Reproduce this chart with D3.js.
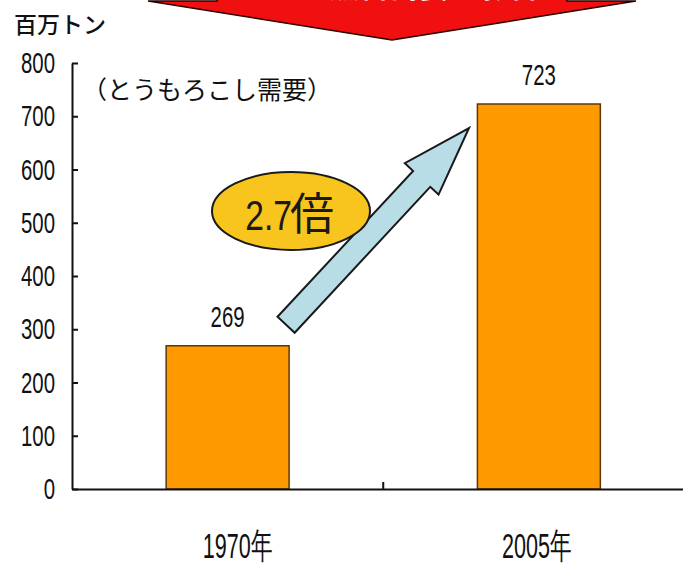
<!DOCTYPE html>
<html>
<head>
<meta charset="utf-8">
<script src="https://cdn.jsdelivr.net/npm/d3@7"></script>
<style>
  html, body { margin: 0; padding: 0; background: #fff; }
  svg { display: block; }
</style>
</head>
<body>
<svg id="chart" width="683" height="564"></svg>
<script>
// Corn demand (million tonnes)
const categories = ["1970年", "2005年"];
const demand = [269, 723];
const yTicks = [0, 100, 200, 300, 400, 500, 600, 700, 800];
const unitLabel = "百万トン";
const seriesLabel = "（とうもろこし需要）";
const bannerText = "バイオ燃料需要の影響";

const W = 683, H = 564;
const plot = { left: 72, right: 694.5, top: 63, bottom: 489 };
const numFont = "'Liberation Sans', Arial, sans-serif";
const jpFont = "'Noto Sans CJK JP', 'Noto Sans', sans-serif";

const svg = d3.select("#chart");

const x = d3.scaleBand()
  .domain(categories)
  .range([plot.left, plot.right])
  .paddingInner(0.605)
  .paddingOuter(0.3025);

const y = d3.scaleLinear()
  .domain([0, 800])
  .range([plot.bottom, plot.top]);

// Red banner arrow at the top (runs off the page edge)
const banner = svg.append("g");
banner.append("path")
  .attr("d", "M217,-40 L567,-40 L567,1 L636,1 L392,40 L148,1 L217,1 Z")
  .attr("fill", "#f01010")
  .attr("stroke", "#2a0000")
  .attr("stroke-width", 1.5)
  .attr("stroke-linejoin", "miter");
banner.append("text")
  .attr("x", 389).attr("y", -3)
  .attr("text-anchor", "middle")
  .attr("font-family", jpFont)
  .attr("font-weight", "bold")
  .attr("font-size", 30)
  .attr("fill", "#fff")
  .text(bannerText);

// Unit label
svg.append("text")
  .attr("x", 14).attr("y", 33)
  .attr("font-family", jpFont)
  .attr("font-weight", 500)
  .attr("font-size", 23)
  .attr("fill", "#111")
  .text(unitLabel);

// Bars
svg.append("g").selectAll("rect")
  .data(demand)
  .join("rect")
  .attr("x", (d, i) => x(categories[i]))
  .attr("y", d => y(d))
  .attr("width", x.bandwidth())
  .attr("height", d => y(0) - y(d))
  .attr("fill", "#ff9900")
  .attr("stroke", "#5a3808")
  .attr("stroke-width", 1.5);

// Y axis (ticks pointing into the plot)
const yAxis = svg.append("g")
  .attr("transform", `translate(${plot.left},0)`)
  .call(d3.axisLeft(y).tickValues(yTicks).tickSizeInner(-6).tickSizeOuter(0).tickPadding(17));
yAxis.select(".domain").attr("stroke", "#111").attr("stroke-width", 2);
yAxis.selectAll(".tick line").attr("stroke", "#111").attr("stroke-width", 2);
yAxis.selectAll(".tick text")
  .attr("x", null)
  .attr("transform", "translate(-17,0) scale(0.68,1)")
  .attr("font-family", numFont)
  .attr("font-size", 30)
  .attr("fill", "#111");

// X axis baseline
const xAxis = svg.append("g")
  .attr("transform", `translate(0,${plot.bottom})`)
  .call(d3.axisBottom(x).tickSize(0).tickFormat(""));
xAxis.select(".domain").attr("stroke", "#111").attr("stroke-width", 2);

// Separator tick between the two categories
const midX = (x(categories[0]) + x.bandwidth() + x(categories[1])) / 2;
svg.append("line")
  .attr("x1", midX).attr("x2", midX)
  .attr("y1", y(0)).attr("y2", y(0) - 7)
  .attr("stroke", "#111").attr("stroke-width", 2);

// Category labels
const labelShift = [10, -2];
svg.append("g").selectAll("text")
  .data(categories)
  .join("text")
  .attr("transform", (d, i) => `translate(${x(d) + x.bandwidth() / 2 + labelShift[i]},558) scale(0.6,1)`)
  .attr("text-anchor", "middle")
  .attr("font-family", numFont)
  .attr("font-size", 36)
  .attr("fill", "#111")
  .text(d => d);

// Value labels above bars
svg.append("g").selectAll("text")
  .data(demand)
  .join("text")
  .attr("transform", (d, i) => `translate(${x(categories[i]) + x.bandwidth() / 2},${y(d) - 19}) scale(0.68,1)`)
  .attr("text-anchor", "middle")
  .attr("font-family", numFont)
  .attr("font-size", 30)
  .attr("fill", "#111")
  .text(d => d);

// Series label
svg.append("text")
  .attr("x", 82).attr("y", 99)
  .attr("font-family", jpFont)
  .attr("font-size", 25)
  .attr("fill", "#111")
  .text(seriesLabel);

// Growth arrow from the 1970 bar toward the 2005 bar
const tail = [x(categories[0]) + x.bandwidth() - 3, y(demand[0]) - 21];
const tip = [x(categories[1]) - 8.4, y(demand[1]) + 24];
const dx = tip[0] - tail[0], dy = tip[1] - tail[1];
const L = Math.hypot(dx, dy);
const ang = Math.atan2(dy, dx) * 180 / Math.PI;
const shaftW = 11.7, headW = 23, headL = 69.5;
const arrowPts = [
  [0, -shaftW], [L - headL, -shaftW], [L - headL, -headW], [L, 0],
  [L - headL, headW], [L - headL, shaftW], [0, shaftW]
];
svg.append("path")
  .attr("transform", `translate(${tail[0]},${tail[1]}) rotate(${ang})`)
  .attr("d", d3.line()(arrowPts) + "Z")
  .attr("fill", "#b8dde6")
  .attr("stroke", "#1a1a1a")
  .attr("stroke-width", 2)
  .attr("stroke-linejoin", "miter");

// Ratio bubble
const ratio = d3.format(".1f")(demand[1] / demand[0]);
const bubble = svg.append("g").attr("transform", "translate(291,211)");
bubble.append("ellipse")
  .attr("rx", 79).attr("ry", 39)
  .attr("fill", "#f7c51e")
  .attr("stroke", "#1a1a1a")
  .attr("stroke-width", 2);
bubble.append("text")
  .attr("transform", "translate(1,19) scale(0.8,1)")
  .attr("text-anchor", "end")
  .attr("font-family", numFont)
  .attr("font-size", 42)
  .attr("fill", "#1a1a1a")
  .text(ratio);
bubble.append("text")
  .attr("x", -1).attr("y", 19)
  .attr("font-family", jpFont)
  .attr("font-size", 44)
  .attr("fill", "#1a1a1a")
  .text("倍");
</script>
</body>
</html>
